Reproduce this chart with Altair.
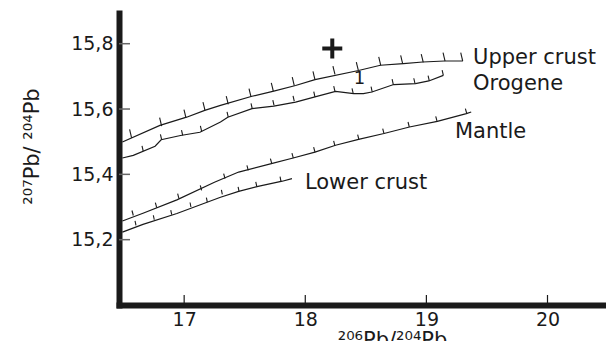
import altair as alt
import pandas as pd

# ---- evolution curves (206Pb/204Pb, 207Pb/204Pb) ----
upper_x = [16.49, 16.80, 17.02, 17.17, 17.30, 17.56, 17.74, 17.92, 18.08, 18.44, 18.62, 18.81, 18.97, 19.15, 19.30]
upper_y = [15.499, 15.550, 15.575, 15.596, 15.611, 15.639, 15.655, 15.672, 15.690, 15.718, 15.734, 15.739, 15.744, 15.747, 15.747]
orogene_x = [16.49, 16.58, 16.76, 16.81, 16.97, 17.13, 17.30, 17.36, 17.56, 17.74, 17.92, 18.08, 18.25, 18.40, 18.48, 18.55, 18.73, 18.91, 19.02, 19.14]
orogene_y = [15.450, 15.458, 15.486, 15.506, 15.519, 15.529, 15.560, 15.575, 15.601, 15.609, 15.621, 15.637, 15.654, 15.647, 15.647, 15.652, 15.675, 15.678, 15.686, 15.703]
mantle_x = [16.49, 16.66, 16.94, 17.25, 17.45, 17.72, 17.90, 18.08, 18.25, 18.44, 18.65, 18.86, 19.09, 19.33, 19.37]
mantle_y = [15.257, 15.281, 15.322, 15.376, 15.407, 15.433, 15.450, 15.468, 15.489, 15.507, 15.525, 15.545, 15.562, 15.586, 15.591]
lower_x = [16.49, 16.66, 16.94, 17.30, 17.45, 17.61, 17.81, 17.89]
lower_y = [15.223, 15.247, 15.280, 15.330, 15.348, 15.363, 15.379, 15.387]

# ---- age tick marks along the curves ----
upper_tx = [16.566, 16.814, 17.015, 17.172, 17.364, 17.552, 17.736, 17.909, 18.080, 18.245, 18.438, 18.623, 18.804, 18.974, 19.154, 19.300]
upper_ty = [15.512, 15.548, 15.573, 15.596, 15.614, 15.637, 15.655, 15.672, 15.690, 15.706, 15.718, 15.734, 15.739, 15.743, 15.747, 15.747]
orogene_tx = [16.662, 16.814, 16.988, 17.144, 17.364, 17.562, 17.742, 17.909, 18.080, 18.245, 18.396, 18.553, 18.727, 18.906, 19.024, 19.140]
orogene_ty = [15.471, 15.506, 15.519, 15.532, 15.575, 15.601, 15.611, 15.624, 15.637, 15.654, 15.647, 15.652, 15.675, 15.678, 15.686, 15.703]
mantle_tx = [16.580, 16.773, 16.957, 17.144, 17.337, 17.529, 17.723, 17.901, 18.080, 18.245, 18.443, 18.650, 18.859, 19.088, 19.333]
mantle_ty = [15.274, 15.298, 15.326, 15.351, 15.387, 15.412, 15.433, 15.450, 15.468, 15.487, 15.506, 15.525, 15.545, 15.562, 15.586]
lower_tx = [16.602, 16.753, 16.897, 17.056, 17.191, 17.315, 17.453, 17.599, 17.799]
lower_ty = [15.244, 15.261, 15.277, 15.300, 15.315, 15.339, 15.348, 15.363, 15.379]

# ---- labels ----
label_text = ["Upper crust", "Orogene", "Mantle", "Lower crust"]
label_x = [19.385, 19.385, 19.236, 17.997]
label_y = [15.739, 15.657, 15.512, 15.356]
plus_x = [18.223]
plus_y = [15.785]
one_x = [18.447]
one_y = [15.678]

x_ticks = [17, 18, 19, 20]
y_ticks = [15.2, 15.4, 15.6, 15.8]
x_domain = [16.462, 20.483]
y_domain = [15.0, 15.894]

series = ["upper", "orogene", "mantle", "lower"]
curve_x = [upper_x, orogene_x, mantle_x, lower_x]
curve_y = [upper_y, orogene_y, mantle_y, lower_y]
tick_x = [upper_tx, orogene_tx, mantle_tx, lower_tx]
tick_y = [upper_ty, orogene_ty, mantle_ty, lower_ty]
tick_paths = ["M0,0L-2,-8.3", "M0,0L-1.2,-5.3", "M0,0L-1.3,-5", "M0,0L-0.9,-4.5"]

rows = []
for s, xs_, ys_ in zip(series, curve_x, curve_y):
    for i, (a, b) in enumerate(zip(xs_, ys_)):
        rows.append({"series": s, "i": i, "x": a, "y": b})
curves = pd.DataFrame(rows)

trows = []
for s, xs_, ys_ in zip(series, tick_x, tick_y):
    for a, b in zip(xs_, ys_):
        trows.append({"series": s, "x": a, "y": b})
ticks = pd.DataFrame(trows)

labels = pd.DataFrame({"t": label_text, "x": label_x, "y": label_y})
plus = pd.DataFrame({"x": plus_x, "y": plus_y})
one = pd.DataFrame({"x": one_x, "y": one_y, "t": ["1"]})
xt = pd.DataFrame({"x": x_ticks, "y": [y_domain[0]] * len(x_ticks)})
yt = pd.DataFrame({"y": y_ticks, "x": [x_domain[0]] * len(y_ticks)})

FONT = "DejaVu Sans"

xs = alt.Scale(domain=x_domain, nice=False, zero=False)
ys = alt.Scale(domain=y_domain, nice=False, zero=False)

x_axis = alt.Axis(
    values=x_ticks, format="d", grid=False, ticks=False, tickSize=0, labelPadding=5,
    labelFont=FONT, labelFontSize=19, labelColor="#1a1a1a",
    domainColor="#1a1a1a", domainWidth=6, domainCap="square",
    title="²⁰⁶Pb/²⁰⁴Pb", titleFont=FONT, titleFontSize=21, titleFontWeight="normal",
    titleColor="#1a1a1a", titleX=273, titleY=41, titleAlign="center", titleBaseline="alphabetic",
)
y_axis = alt.Axis(
    values=y_ticks, grid=False, ticks=False, tickSize=0, labelPadding=6,
    format=".1f", labelExpr="replace(datum.label, '.', ',')",
    labelFont=FONT, labelFontSize=19, labelColor="#1a1a1a",
    domainColor="#1a1a1a", domainWidth=6, domainCap="square",
    title="²⁰⁷Pb/ ²⁰⁴Pb", titleFont=FONT, titleFontSize=21, titleFontWeight="normal",
    titleColor="#1a1a1a", titleX=-81, titleY=133, titleAngle=270, titleAlign="center",
    titleBaseline="alphabetic",
)

base_x = alt.X("x:Q", scale=xs, axis=x_axis)
base_y = alt.Y("y:Q", scale=ys, axis=y_axis)

lines = alt.Chart(curves).mark_line(color="#1a1a1a", strokeWidth=1.2).encode(
    x=base_x, y=base_y, detail="series:N", order="i:Q"
)

age_ticks = alt.Chart(ticks).mark_point(filled=False, color="#1a1a1a", strokeWidth=1.1, opacity=1, size=4).encode(
    x=alt.X("x:Q", scale=xs), y=alt.Y("y:Q", scale=ys),
    shape=alt.Shape("series:N", scale=alt.Scale(domain=series, range=tick_paths), legend=None),
)

texts = alt.Chart(labels).mark_text(font=FONT, fontSize=21, align="left", baseline="alphabetic", color="#1a1a1a").encode(
    x=alt.X("x:Q", scale=xs), y=alt.Y("y:Q", scale=ys), text="t:N"
)

plus_mark = alt.Chart(plus).mark_point(shape="M-1,0L1,0M0,-1L0,1", size=400, filled=False, strokeWidth=4, color="#1a1a1a", opacity=1).encode(
    x=alt.X("x:Q", scale=xs), y=alt.Y("y:Q", scale=ys)
)

one_mark = alt.Chart(one).mark_text(font=FONT, fontSize=18, align="center", baseline="alphabetic", color="#1a1a1a").encode(
    x=alt.X("x:Q", scale=xs), y=alt.Y("y:Q", scale=ys), text="t:N"
)

x_tick_marks = alt.Chart(xt).mark_point(shape="M0,0L0,-10", size=4, filled=False, strokeWidth=1.2, color="#1a1a1a", opacity=1).encode(
    x=alt.X("x:Q", scale=xs), y=alt.Y("y:Q", scale=ys)
)
y_tick_marks = alt.Chart(yt).mark_point(shape="M0,0L11,0", size=4, filled=False, strokeWidth=1.5, color="#666666", opacity=1).encode(
    x=alt.X("x:Q", scale=xs), y=alt.Y("y:Q", scale=ys)
)

chart = alt.layer(lines, age_ticks, texts, plus_mark, one_mark, x_tick_marks, y_tick_marks).properties(
    width=487, height=292,
    autosize=alt.AutoSizeParams(type="none"),
    padding={"left": 111, "top": 5, "right": 0, "bottom": 36},
    background="white",
).configure_view(stroke=None)

chart.save("out.html", embed_options={"renderer": "svg", "actions": False})
